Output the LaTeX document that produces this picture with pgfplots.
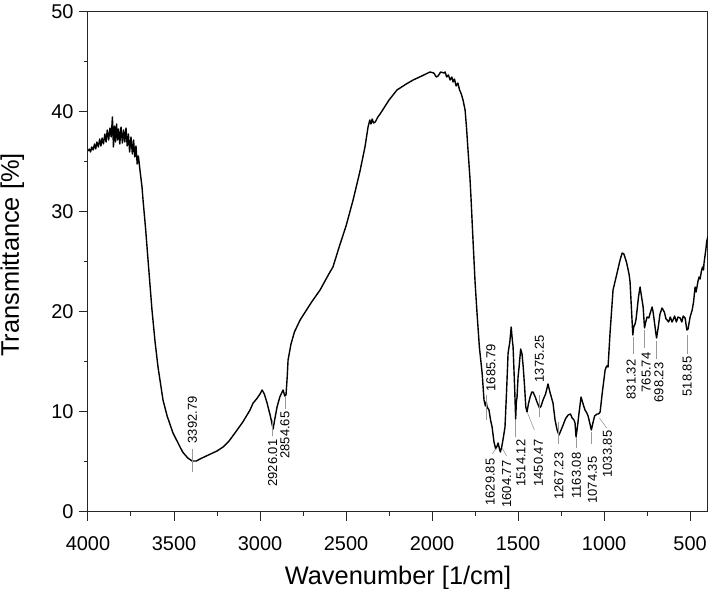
\documentclass[border=0pt]{standalone}
\usepackage{pgfplots}
\usepackage{pgfplotstable}
\pgfplotsset{compat=1.18}
\usepackage{fontspec}
\setmainfont{Liberation Sans}
\newfontfamily\rotfont{Liberation Sans}
\pgfplotstableread{
x y
4000 36.1
3992 36.3
3985 36.0
3978 36.5
3970 36.2
3962 36.8
3955 36.3
3948 37.0
3940 36.5
3932 37.3
3925 36.6
3918 37.4
3910 36.8
3902 37.8
3895 37.0
3888 38.2
3880 37.2
3872 38.4
3865 37.5
3858 39.5
3852 36.5
3846 38.6
3840 37.0
3834 38.8
3828 37.2
3822 38.3
3815 36.8
3808 38.5
3800 36.9
3793 38.2
3786 37.0
3779 38.4
3772 36.6
3765 37.8
3758 36.0
3750 37.5
3742 35.8
3735 37.2
3728 35.5
3721 36.6
3714 34.8
3707 35.6
3700 34.5
3693 33.5
3686 32.5
3680 31.2
3665 28.3
3651 25.2
3628 20.2
3610 17.0
3593 14.5
3564 11.2
3540 9.6
3506 7.9
3450 6.0
3420 5.4
3395 5.1
3370 5.1
3349 5.3
3300 5.7
3250 6.1
3215 6.5
3180 7.1
3150 7.8
3100 9.0
3058 10.2
3040 10.9
3020 11.3
3000 11.8
2988 12.2
2975 11.8
2959 10.9
2940 9.6
2924 8.3
2915 9.2
2901 10.5
2885 11.5
2866 12.2
2856 11.6
2849 11.7
2842 13.5
2837 15.2
2820 16.8
2800 18.0
2767 19.2
2700 21.0
2651 22.2
2600 23.8
2576 24.5
2540 26.5
2500 28.6
2459 31.2
2420 34.0
2390 36.5
2372 38.5
2362 39.2
2355 38.8
2348 39.3
2340 38.9
2330 39.0
2315 39.5
2302 39.8
2250 41.2
2204 42.2
2150 42.8
2110 43.2
2060 43.6
2012 44.0
1990 43.9
1975 43.5
1965 43.6
1950 44.0
1930 43.9
1924 44.0
1915 43.5
1905 43.7
1895 43.2
1885 43.5
1878 43.0
1870 43.3
1860 42.6
1850 42.9
1840 42.2
1830 41.8
1820 41.2
1808 40.2
1800 38.5
1791 36.2
1779 33.2
1773 31.2
1762 27.2
1750 23.0
1739 20.0
1725 16.5
1709 13.9
1698 11.2
1690 10.6
1685 11.0
1680 10.5
1669 10.2
1660 9.2
1651 8.5
1640 7.0
1630 6.3
1622 6.6
1616 6.9
1608 6.3
1603 6.0
1595 6.5
1585 7.5
1576 8.5
1567 12.0
1558 15.9
1548 17.0
1540 18.5
1535 17.5
1529 16.5
1520 12.5
1514 9.3
1510 11.0
1506 11.5
1500 13.5
1494 14.5
1485 16.3
1477 15.8
1470 14.5
1462 12.5
1455 10.5
1448 10.0
1440 10.8
1430 11.5
1420 12.0
1413 12.0
1400 11.5
1390 11.0
1375 10.4
1366 10.6
1355 11.2
1340 11.8
1326 12.8
1315 12.0
1297 10.9
1285 9.2
1273 8.2
1262 7.7
1250 8.2
1238 8.7
1225 9.3
1209 9.7
1195 9.8
1186 9.4
1175 9.2
1169 8.9
1163 7.5
1155 8.5
1145 10.0
1134 11.5
1122 10.8
1111 10.2
1100 9.9
1093 9.6
1082 8.8
1074 8.2
1065 8.9
1055 9.6
1041 9.8
1033 9.8
1023 10.0
1010 12.0
994 14.2
985 14.6
977 14.5
965 18.0
948 22.2
930 23.5
907 25.2
895 25.9
885 25.8
870 25.0
855 23.8
849 23.0
840 20.0
833 17.7
828 18.5
820 18.8
814 19.3
800 21.5
791 22.5
782 21.5
773 20.5
765 18.4
758 19.0
750 19.5
740 19.4
730 20.0
721 20.5
715 20.0
709 19.2
700 18.0
695 17.4
685 18.5
675 19.8
663 20.4
650 20.0
640 19.3
634 19.2
625 19.0
615 19.5
605 19.0
599 19.2
590 19.6
580 19.0
570 19.5
558 19.4
548 19.0
540 19.6
529 19.4
519 18.2
512 18.3
500 19.5
488 20.2
480 21.0
471 22.5
465 22.0
455 23.0
448 23.5
442 23.3
435 24.0
428 24.5
422 24.2
419 24.9
412 25.8
408 26.3
404 27.0
396 27.6
}\spectrum
\begin{document}
\begin{tikzpicture}
\begin{axis}[
  scale only axis, width=620bp, height=500bp,
  x dir=reverse, xmin=396, xmax=4000, ymin=0, ymax=50,
  xtick={500,1000,...,4000}, minor x tick num=1,
  ytick={0,10,...,50}, minor y tick num=1,
  tick align=outside, tick pos=left,
  major tick length=9bp, minor tick length=4bp,
  axis line style={line width=1bp, black!85},
  every tick/.style={black!85, line width=1bp},
  /pgf/number format/assume math mode=true,
  /pgf/number format/1000 sep={},
  tick label style={font=\fontsize{20}{24}\selectfont},
  xticklabel style={yshift=-12bp},
  yticklabel style={xshift=-2bp},
  xlabel={Wavenumber [1/cm]}, ylabel={Transmittance [\%]},
  xlabel style={font=\fontsize{25.5}{30}\selectfont, at={(axis description cs:0.5,0)}, anchor=base, yshift=-73bp},
  ylabel style={font=\rotfont\fontsize{25.5}{30}\selectfont, at={(axis description cs:-0.122,0.514)}, anchor=center},
]
\addplot[black, line width=1.4bp, line join=round] table[x=x,y=y] {\spectrum};
\tikzset{lab/.style={rotate=90, inner sep=0.5bp, font=\rotfont\fontsize{13}{15}\selectfont},
         ld/.style={draw=gray!80, line width=0.6bp}}
% leader lines
\draw[ld] (axis cs:3392.79,6.3) -- (axis cs:3392.79,4.0);
\draw[ld] (axis cs:2926.01,9.2) -- (axis cs:2926.01,7.6);
\draw[ld] (axis cs:2854.65,11.5) -- (axis cs:2854.65,10.3);
\draw[ld] (axis cs:1685.79,11.7) -- (axis cs:1685.79,9.2);
\draw[ld] (axis cs:1625,6.4) -- (axis cs:1650,5.8);
\draw[ld] (axis cs:1592,6.4) -- (axis cs:1567,5.6);
\draw[ld] (axis cs:1514.12,9.2) -- (axis cs:1514.12,7.5);
\draw[ld] (axis cs:1445,9.9) -- (axis cs:1405,8.2);
\draw[ld] (axis cs:1375.25,11.7) -- (axis cs:1375.25,9.5);
\draw[ld] (axis cs:1267.23,9.0) -- (axis cs:1267.23,6.8);
\draw[ld] (axis cs:1163.08,7.4) -- (axis cs:1163.08,6.4);
\draw[ld] (axis cs:1074.35,8.0) -- (axis cs:1074.35,6.8);
\draw[ld] (axis cs:1027,9.4) -- (axis cs:985,8.4);
\draw[ld] (axis cs:831.32,17.5) -- (axis cs:831.32,15.8);
\draw[ld] (axis cs:765.74,18.2) -- (axis cs:765.74,16.4);
\draw[ld] (axis cs:698.23,17.1) -- (axis cs:698.23,15.3);
\draw[ld] (axis cs:518.85,17.7) -- (axis cs:518.85,15.8);
% labels
\node[lab, anchor=west] at (axis cs:3392.79,6.8) {3392.79};
\node[lab, anchor=east] at (axis cs:2926.01,7.3) {2926.01};
\node[lab, anchor=east] at (axis cs:2854.65,10.1) {2854.65};
\node[lab, anchor=west] at (axis cs:1658,12.0) {1685.79};
\node[lab, anchor=east] at (axis cs:1662,5.4) {1629.85};
\node[lab, anchor=east] at (axis cs:1567,5.2) {1604.77};
\node[lab, anchor=east] at (axis cs:1484,7.3) {1514.12};
\node[lab, anchor=east] at (axis cs:1382,7.3) {1450.47};
\node[lab, anchor=west] at (axis cs:1375.25,12.9) {1375.25};
\node[lab, anchor=east] at (axis cs:1262,6.0) {1267.23};
\node[lab, anchor=east] at (axis cs:1161,6.0) {1163.08};
\node[lab, anchor=east] at (axis cs:1068,5.6) {1074.35};
\node[lab, anchor=east] at (axis cs:981,8.2) {1033.85};
\node[lab, anchor=east] at (axis cs:842,15.3) {831.32};
\node[lab, anchor=east] at (axis cs:756,16.0) {765.74};
\node[lab, anchor=east] at (axis cs:681,15.0) {698.23};
\node[lab, anchor=east] at (axis cs:517,15.6) {518.85};
\end{axis}
\pgfresetboundingbox
\path[use as bounding box] ([shift={(-88bp,-77bp)}]current axis.south west) rectangle ([shift={(4bp,12bp)}]current axis.north east);
\end{tikzpicture}
\end{document}
